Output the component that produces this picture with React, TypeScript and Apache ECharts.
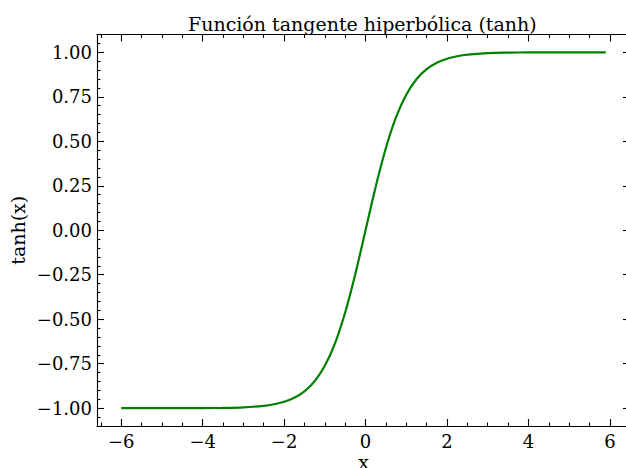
import React, { useEffect, useRef } from "react";
import * as echarts from "echarts";

const xValues = [-6, -5, -4, -3.5, -3, -2.5, -2.25, -2, -1.75, -1.5, -1.25, -1, -0.75, -0.5, -0.25, 0, 0.25, 0.5, 0.75, 1, 1.25, 1.5, 1.75, 2, 2.25, 2.5, 3, 3.5, 4, 5, 5.9];
const yValues = [-0.99999, -0.99991, -0.99933, -0.99818, -0.99505, -0.98661, -0.97803, -0.96403, -0.94138, -0.90515, -0.84828, -0.76159, -0.63515, -0.46212, -0.24492, 0, 0.24492, 0.46212, 0.63515, 0.76159, 0.84828, 0.90515, 0.94138, 0.96403, 0.97803, 0.98661, 0.99505, 0.99818, 0.99933, 0.99991, 0.99998];
const xMajor = [-6, -4, -2, 0, 2, 4, 6];
const xMinor = [-6.5, -5.5, -5, -4.5, -3.5, -3, -2.5, -1.5, -1, -0.5, 0.5, 1, 1.5, 2.5, 3, 3.5, 4.5, 5, 5.5];
const yMajor = [-1, -0.75, -0.5, -0.25, 0, 0.25, 0.5, 0.75, 1];
const yMinor = [-1.05, -0.95, -0.9, -0.85, -0.8, -0.7, -0.65, -0.6, -0.55, -0.45, -0.4, -0.35, -0.3, -0.2, -0.15, -0.1, -0.05, 0.05, 0.1, 0.15, 0.2, 0.3, 0.35, 0.4, 0.45, 0.55, 0.6, 0.65, 0.7, 0.8, 0.85, 0.9, 0.95, 1.05];

const FONT = "DejaVu Serif";
const INK = "#000000";
const X_MIN = -6.595;
const X_MAX = 6.495;
const Y_MIN = -1.1;
const Y_MAX = 1.1;

const fmtX = (v: number) => String(v).replace("-", "\u2212");
const fmtY = (v: number) => (Math.abs(v) < 1e-9 ? "0.00" : v.toFixed(2).replace("-", "\u2212"));

function makeX(position: "bottom" | "top", major: boolean, withLine: boolean, labels: boolean) {
  return {
    type: "value",
    position,
    min: X_MIN,
    max: X_MAX,
    axisLine: { show: withLine, onZero: false, lineStyle: { color: INK, width: 1.1 } },
    axisTick: {
      show: true,
      inside: true,
      length: major ? 7 : 3.5,
      customValues: major ? xMajor : xMinor,
      lineStyle: { color: INK, width: 1.1 },
    },
    axisLabel: {
      show: labels,
      customValues: xMajor,
      formatter: fmtX,
      fontFamily: FONT,
      fontSize: 18,
      color: INK,
      margin: 6,
    },
    splitLine: { show: false },
    ...(labels
      ? {
          name: "x",
          nameLocation: "middle",
          nameGap: 29.5,
          nameMoveOverlap: false,
          nameTextStyle: { fontFamily: FONT, fontSize: 19, color: INK, lineHeight: 12 },
        }
      : {}),
  };
}

function makeY(position: "left" | "right", major: boolean, withLine: boolean, labels: boolean) {
  return {
    type: "value",
    position,
    min: Y_MIN,
    max: Y_MAX,
    axisLine: { show: withLine, onZero: false, lineStyle: { color: INK, width: 1.1 } },
    axisTick: {
      show: true,
      inside: true,
      length: major ? 7 : 3.5,
      customValues: major ? yMajor : yMinor,
      lineStyle: { color: INK, width: 1.1 },
    },
    axisLabel: {
      show: labels,
      customValues: yMajor,
      formatter: fmtY,
      fontFamily: FONT,
      fontSize: 18,
      color: INK,
      margin: 5,
    },
    splitLine: { show: false },
    ...(labels
      ? {
          name: "tanh(x)",
          nameLocation: "middle",
          nameGap: 70,
          nameMoveOverlap: false,
          nameTextStyle: { fontFamily: FONT, fontSize: 19, color: INK },
        }
      : {}),
  };
}

export default function App() {
  const ref = useRef<HTMLDivElement>(null);
  useEffect(() => {
    if (!ref.current) return;
    const chart = echarts.init(ref.current, null, { renderer: "svg" });
    chart.setOption({
      animation: false,
      backgroundColor: "#ffffff",
      title: {
        text: "Función tangente hiperbólica (tanh)",
        left: 183,
        top: 9,
        textStyle: { fontFamily: FONT, fontSize: 19, fontWeight: "normal", color: INK },
      },
      grid: { left: 97, top: 34.5, right: 10, bottom: 42, containLabel: false, outerBoundsMode: "none" },
      xAxis: [
        makeX("bottom", true, true, true),
        makeX("bottom", false, false, false),
        makeX("top", true, true, false),
        makeX("top", false, false, false),
      ],
      yAxis: [
        makeY("left", true, true, true),
        makeY("left", false, false, false),
        makeY("right", true, true, false),
        makeY("right", false, false, false),
      ],
      series: [
        {
          type: "line",
          xAxisIndex: 0,
          yAxisIndex: 0,
          data: xValues.map((x, i) => [x, yValues[i]]),
          showSymbol: false,
          smooth: 0.35,
          lineStyle: { color: "#008000", width: 2.2 },
          itemStyle: { color: "#008000" },
        },
      ],
    });
    return () => chart.dispose();
  }, []);
  return (
    <div
      ref={ref}
      style={{ position: "fixed", left: 0, top: 0, width: 640, height: 468, background: "#ffffff" }}
    />
  );
}
